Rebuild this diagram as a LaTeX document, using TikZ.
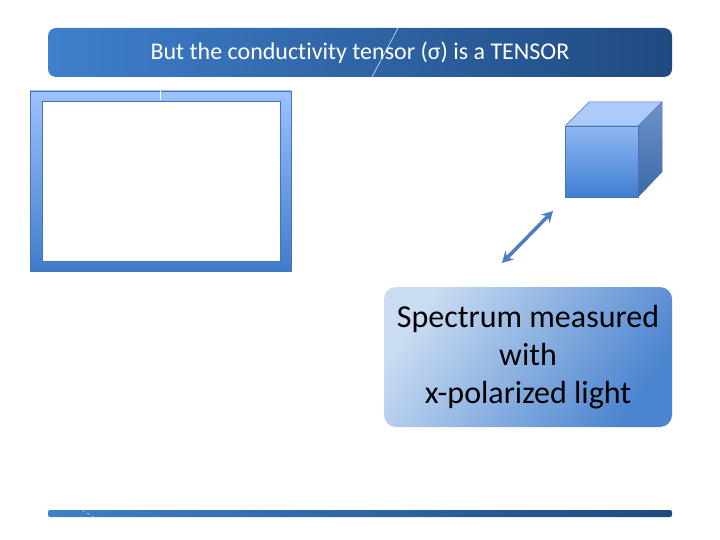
\documentclass[tikz,border=0pt]{standalone}
\usepackage{fontspec}
\setmainfont{Carlito}[Ligatures={NoCommon}]
\usetikzlibrary{arrows.meta}
\definecolor{barL}{HTML}{3F7FCB}
\definecolor{barR}{HTML}{1F4A80}
\definecolor{frameT}{HTML}{9CC2FF}
\definecolor{frameB}{HTML}{3E7CCB}
\definecolor{frameLine}{HTML}{4A74B0}
\definecolor{cubeT}{HTML}{8FB8F4}
\definecolor{cubeB}{HTML}{3F7ED0}
\definecolor{cubeTop}{HTML}{ACCBF8}
\definecolor{sideT}{HTML}{6E93C8}
\definecolor{sideB}{HTML}{3C68A8}
\definecolor{arrowc}{HTML}{4A7EBF}
\definecolor{boxL}{HTML}{C9DCF2}
\definecolor{boxR}{HTML}{4B84CF}
\tikzset{
  titlebar/.style={rounded corners=8pt, left color=barL, right color=barR, draw=none,
     minimum width=624pt, minimum height=49pt, inner sep=0pt, text=white, font=\fontsize{24}{26}\selectfont},
  infobox/.style={rounded corners=12pt, top color=boxL, bottom color=boxR, shading angle=55, draw=none,
     minimum width=288pt, minimum height=140pt, inner sep=0pt, align=center, font=\fontsize{32}{38}\selectfont},
  bottombar/.style={rounded corners=2pt, left color=barL, right color=barR, draw=none,
     minimum width=624pt, minimum height=7pt, inner sep=0pt},
  pol/.style={draw=arrowc, line width=3.5pt, {Stealth[length=11pt,width=12pt]}-{Stealth[length=11pt,width=12pt]}}
}
\begin{document}
\begin{tikzpicture}[x=1pt,y=-1pt]
\useasboundingbox (0,0) rectangle (720,540);
% title bar
\node[titlebar] (title) at (360,52.5) {But the conductivity tensor (σ) is a TENSOR};
\draw[white!80!barL, line width=0.6pt] (398,28) -- (372,77);
% frame
\path[top color=frameT, bottom color=frameB, draw=frameLine, line width=0.6pt]
  (30,91) rectangle (291,271);
\node[fill=white, draw=frameLine, line width=0.6pt, minimum width=238pt, minimum height=160pt, inner sep=0pt] (screen) at (161,181) {};
\draw[white, line width=0.8pt] (160,91.5) -- (160,100.5);
% cube
\path[top color=sideT, bottom color=sideB, draw=frameLine, line width=0.5pt]
  (638,126) -- (662,102) -- (662,172) -- (638,197) -- cycle;
\path[fill=cubeTop, draw=frameLine, line width=0.5pt]
  (565,126) -- (589,102) -- (662,102) -- (638,126) -- cycle;
\node[top color=cubeT, bottom color=cubeB, draw=frameLine, line width=0.5pt, minimum width=73pt, minimum height=71pt, inner sep=0pt] (cube) at (601.5,161.5) {};
% polarization arrow
\coordinate (pa) at (502,263);
\coordinate (pb) at (553,211);
\draw[pol] (pa) -- (pb);
% info box
\node[infobox] (info) at (528,357) {Spectrum measured\\with\\x-polarized light};
% bottom bar
\node[bottombar] (bbar) at (360,513.5) {};
\draw[white!70!barL, line width=0.5pt, dashed] (82,510) -- (94,517);
\end{tikzpicture}
\end{document}
